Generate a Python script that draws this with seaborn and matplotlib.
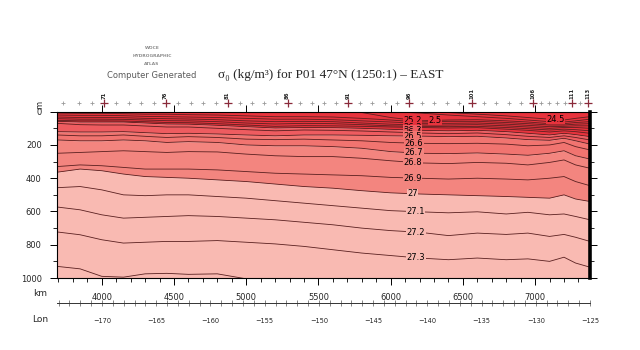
import numpy as np
import pandas as pd
import matplotlib
matplotlib.use("Agg")
import matplotlib.pyplot as plt
import seaborn as sns

sns.set_theme(style="white")
plt.rcParams["font.family"] = ["DejaVu Sans"]

# ---- section data -------------------------------------------------------
# distance along the section (km) at which isopycnal depths are tabulated
km = [3690, 3850, 4000, 4150, 4300, 4450, 4600, 4800, 5000, 5200, 5400, 5600,
      5800, 6000, 6200, 6400, 6600, 6800, 6950, 7100, 7200, 7280, 7380]

# depth (m) of each sigma-0 isopycnal along the section
d245 = [0, 0, 0, 0, 0, 0, 0, 0, 0, 0, 0, 0, 0, 0, 0, 5, 15, 25, 35, 45, 50, 40, 30]
d250 = [0, 0, 0, 0, 0, 0, 0, 0, 0, 0, 0, 0, 0, 0, 8, 20, 30, 40, 50, 60, 62, 55, 45]
d252 = [0, 0, 0, 0, 0, 0, 0, 0, 0, 0, 0, 0, 5, 35, 55, 50, 48, 55, 62, 72, 72, 65, 60]
d254 = [8, 10, 10, 12, 15, 15, 18, 20, 25, 30, 30, 32, 40, 50, 62, 58, 58, 65, 72, 80, 80, 75, 72]
d256 = [20, 22, 22, 24, 28, 30, 32, 35, 40, 45, 45, 48, 55, 62, 70, 70, 68, 75, 82, 90, 88, 85, 85]
d258 = [32, 35, 35, 36, 40, 42, 44, 48, 55, 60, 58, 60, 68, 75, 80, 80, 78, 85, 92, 100, 95, 95, 100]
d260 = [42, 45, 45, 46, 50, 54, 55, 60, 68, 74, 70, 72, 78, 85, 88, 90, 88, 95, 102, 110, 105, 108, 115]
d262 = [52, 55, 55, 56, 60, 65, 66, 72, 80, 88, 84, 85, 88, 92, 95, 98, 96, 105, 112, 122, 115, 120, 130]
d263 = [58, 62, 62, 62, 68, 74, 75, 82, 90, 98, 95, 96, 100, 106, 112, 115, 112, 120, 130, 140, 130, 138, 150]
d264 = [70, 78, 80, 80, 86, 92, 92, 100, 108, 115, 110, 112, 116, 122, 128, 132, 128, 138, 148, 155, 145, 155, 170]
d265 = [120, 122, 122, 120, 126, 132, 130, 134, 140, 145, 140, 140, 142, 145, 147, 150, 148, 158, 168, 172, 160, 175, 195]
d266 = [140, 145, 145, 140, 148, 155, 150, 155, 165, 168, 165, 170, 175, 185, 190, 192, 190, 195, 205, 200, 185, 210, 230]
d267 = [170, 175, 175, 170, 175, 185, 180, 185, 200, 205, 205, 210, 220, 240, 250, 252, 248, 255, 262, 250, 235, 265, 285]
d268 = [250, 245, 240, 235, 240, 245, 240, 242, 255, 265, 270, 270, 280, 295, 308, 312, 305, 310, 320, 305, 290, 320, 340]
d269 = [330, 320, 325, 335, 345, 345, 345, 350, 360, 370, 375, 380, 385, 395, 400, 405, 400, 405, 410, 400, 390, 420, 445]
d270 = [364, 345, 355, 375, 390, 395, 400, 410, 420, 435, 450, 460, 475, 488, 495, 500, 505, 510, 515, 520, 500, 525, 540]
d271 = [457, 450, 470, 500, 505, 500, 500, 510, 520, 535, 550, 565, 580, 595, 602, 608, 602, 615, 605, 620, 615, 630, 650]
d272 = [573, 590, 620, 640, 635, 630, 625, 630, 640, 650, 665, 680, 700, 715, 725, 745, 730, 738, 730, 750, 738, 755, 780]
d273 = [723, 740, 770, 790, 785, 780, 780, 775, 785, 795, 810, 830, 850, 865, 880, 890, 880, 890, 885, 900, 875, 910, 935]
d274 = [930, 945, 990, 995, 975, 972, 978, 975, 1005, 1030, 1045, 1050, 1050, 1055, 1060, 1060, 1060, 1060, 1060, 1060, 1060, 1060, 1060]

sigma_levels = [24.5, 25.0, 25.2, 25.4, 25.6, 25.8, 26.0, 26.2, 26.3, 26.4,
                26.5, 26.6, 26.7, 26.8, 26.9, 27.0, 27.1, 27.2, 27.3, 27.4]
depths = [d245, d250, d252, d254, d256, d258, d260, d262, d263, d264,
          d265, d266, d267, d268, d269, d270, d271, d272, d273, d274]

# contour labels: text, level, section position (km)
label_text = ["25.2", "26.2", "26.3", "26.4", "26.5", "26.6", "26.7", "26.8", "26.9",
              "27", "27.1", "27.2", "27.3", "2.5", "24.5"]
label_level = [25.2, 26.2, 26.3, 26.4, 26.5, 26.6, 26.7, 26.8, 26.9,
               27.0, 27.1, 27.2, 27.3, 25.2, 24.5]
label_km = [6150, 6150, 6150, 6150, 6150, 6160, 6160, 6155, 6150,
            6150, 6170, 6175, 6175, 6310, 7140]

# stations along the top axis
stations = list(range(68, 114))
station_km = [3730, 3841, 3931, 4014, 4097, 4187, 4270, 4359, 4442, 4525, 4615,
              4698, 4788, 4871, 4954, 5037, 5120, 5203, 5286, 5369, 5452, 5541,
              5624, 5707, 5790, 5873, 5963, 6046, 6129, 6219, 6302, 6392, 6475,
              6564, 6647, 6730, 6820, 6903, 6986, 7041, 7097, 7152, 7207, 7256,
              7311, 7366]
labelled_stations = [71, 76, 81, 86, 91, 96, 101, 106, 111, 113]

depth_ticks = [0, 200, 400, 600, 800, 1000]
km_ticks = [4000, 4500, 5000, 5500, 6000, 6500, 7000]
lon_ticks = [-170, -165, -160, -155, -150, -145, -140, -135, -130, -125]

# ---- colours ------------------------------------------------------------
c_red = "#e8333d"
c_mid = "#ee5c60"
c_sal1 = "#f17470"
c_sal2 = "#f3857f"
c_pink = "#f9bab2"
c_line = "#5a2020"

W, H = 640, 350
fig = plt.figure(figsize=(W / 100, H / 100), dpi=100)
x0, x1, y0, y1 = 57, 590, 111.7, 278
ax = fig.add_axes([x0 / W, 1 - y1 / H, (x1 - x0) / W, (y1 - y0) / H])

kmv = np.array(km)
lev = dict(zip(sigma_levels, [np.array(d, float) for d in depths]))

# filled density classes
ax.fill_between(kmv, 0, lev[26.3], color=c_red, lw=0)
ax.fill_between(kmv, lev[26.3], lev[26.5], color=c_mid, lw=0)
ax.fill_between(kmv, lev[26.5], lev[26.7], color=c_sal1, lw=0)
ax.fill_between(kmv, lev[26.7], lev[27.0], color=c_sal2, lw=0)
ax.fill_between(kmv, lev[27.0], 1100, color=c_pink, lw=0)

# isopycnal lines
rows = []
for s, d in zip(sigma_levels, depths):
    for k, z in zip(km, d):
        rows.append({"km": k, "depth": z, "sigma": s})
df = pd.DataFrame(rows)
sns.lineplot(data=df, x="km", y="depth", units="sigma", estimator=None,
             color=c_line, lw=0.6, ax=ax, legend=False, sort=True)
ax.set_xlim(3690, 7380)
ax.set_ylim(1000, 0)
ax.set_xlabel("")
ax.set_ylabel("")


def band_colour(level):
    if level < 26.3:
        return c_red
    if level < 26.5:
        return c_mid
    if level < 26.7:
        return c_sal1
    if level < 27.0:
        return c_sal2
    return c_pink


for t, s, k in zip(label_text, label_level, label_km):
    z = np.interp(k, kmv, lev[s])
    ax.text(k, z, t, fontsize=6, ha="center", va="center", color="black",
            bbox=dict(boxstyle="square,pad=0.05", fc=band_colour(s + 0.05), ec="none"),
            zorder=5)

# axes styling
for side in ["left", "bottom", "top"]:
    ax.spines[side].set_linewidth(0.8)
    ax.spines[side].set_color("black")
ax.spines["right"].set_linewidth(2.6)
ax.spines["right"].set_color("black")

ax.set_yticks(depth_ticks)
ax.set_yticklabels([str(v) for v in depth_ticks], fontsize=6)
ax.set_yticks(np.arange(100, 1000, 200), minor=True)
ax.set_xticks(km_ticks)
ax.set_xticklabels([str(v) for v in km_ticks], fontsize=6)
ax.set_xticks([v for v in range(3700, 7400, 100) if v % 500], minor=True)
ax.tick_params(axis="both", which="major", direction="out", length=5, width=0.7,
               pad=6, color="black", left=True, bottom=True, right=True, top=True,
               labelright=False, labeltop=False)
ax.tick_params(axis="both", which="minor", direction="out", length=3, width=0.6,
               color="black", left=True, bottom=True, right=True, top=False)
ax.tick_params(axis="x", which="major", top=True, length=2)
ax.tick_params(axis="x", which="major", bottom=True, length=5)

# station markers above the section
for st, k in zip(stations, station_km):
    big = st in labelled_stations
    ax.plot(k, -52, marker="+", ms=6 if big else 3.5, mew=0.9 if big else 0.6,
            color="#8a2a3a" if big else "#9a9a9a", clip_on=False, zorder=6)
    if big:
        ax.text(k, -75, str(st), rotation=90, fontsize=3.8, fontweight="bold",
                ha="center", va="bottom", clip_on=False)

ax.text(-0.032, 1.04, "m", transform=ax.transAxes, rotation=90, fontsize=6,
        ha="center", va="center")

# longitude axis
axl = fig.add_axes([x0 / W, 1 - 303 / H, (x1 - x0) / W, 0.02])
axl.set_facecolor("none")
for side in ["left", "right", "top"]:
    axl.spines[side].set_visible(False)
axl.spines["bottom"].set_visible(True)
axl.spines["bottom"].set_linewidth(0.7)
axl.spines["bottom"].set_color("#333333")
axl.set_xlim(-174.15, -125)
axl.set_yticks([])
axl.set_xticks(lon_ticks)
axl.set_xticklabels(["\u2212" + str(abs(v)) for v in lon_ticks], fontsize=4.8)
axl.set_xticks(range(-174, -124), minor=True)
axl.tick_params(axis="x", which="both", direction="inout", length=5, width=0.5,
                pad=8, color="#555555", bottom=True, top=False)

fig.text(40 / W, 1 - 293 / H, "km", fontsize=6.5, ha="center", va="center")
fig.text(40 / W, 1 - 320 / H, "Lon", fontsize=6.5, ha="center", va="center")

# atlas stamp and title
for txt, yy in [("WOCE", 48), ("HYDROGRAPHIC", 56), ("ATLAS", 64)]:
    fig.text(152 / W, 1 - yy / H, txt, fontsize=3.2, fontweight="bold",
             color="#8c8c8c", ha="center", va="center")
fig.text(152 / W, 1 - 76 / H, "Computer Generated", fontsize=6, color="#5a5a5a",
         ha="center", va="center")
fig.text(331 / W, 1 - 75 / H, "\u03c3\u2080 (kg/m\u00b3) for P01 47\u00b0N (1250:1) \u2013 EAST",
         fontsize=9.5, ha="center", va="center",
         family=["Liberation Serif", "DejaVu Serif"])

fig.savefig("out.png", dpi=100, facecolor="white")
